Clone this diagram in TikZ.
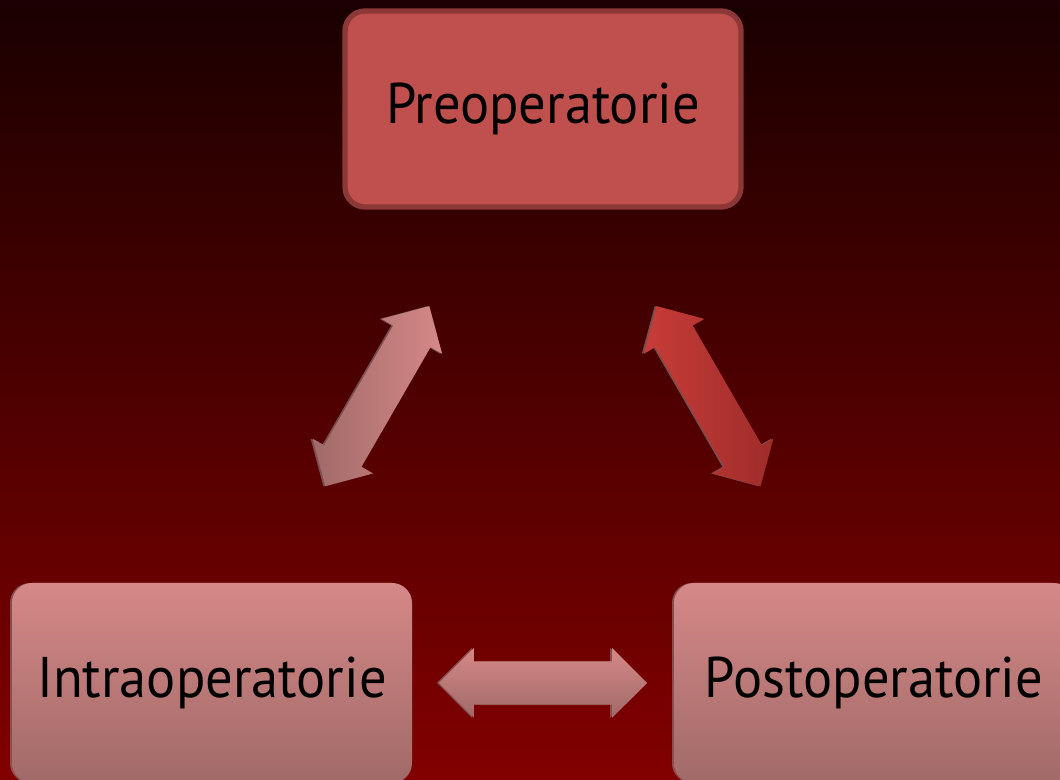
\documentclass[tikz,border=0pt]{standalone}
\usepackage{fontspec}
\setmainfont{PT Sans}[FakeStretch=0.95]
\usetikzlibrary{shapes.arrows,shadows,positioning}

\definecolor{bgtop}{RGB}{26,0,0}
\definecolor{bgbot}{RGB}{130,0,0}
\definecolor{prefill}{RGB}{192,80,77}
\definecolor{preline}{RGB}{140,56,54}
\definecolor{pinktop}{RGB}{213,136,135}
\definecolor{pinkbot}{RGB}{160,106,104}
\definecolor{redtop}{RGB}{200,60,56}
\definecolor{redbot}{RGB}{158,44,42}
\definecolor{glow}{RGB}{150,130,130}

\tikzset{
  phase/.style={shape = rectangle, rounded corners = 15pt, minimum width = 300pt, minimum height = 150pt, inner sep = 0pt, font = \fontsize{43}{50}\selectfont},
  darrow/.style={shape = double arrow, double arrow head extend = 10pt, minimum height = 156pt, minimum width = 52pt, inner xsep = 0pt, inner ysep = 16pt, sloped},
  soft/.style={general shadow = {fill = glow, opacity = 0.6, shadow xshift = -1.5pt, shadow yshift = 0pt}}
}

\begin{document}
\begin{tikzpicture}[x = 0.75pt, y = 0.75pt]
\useasboundingbox (0,0) rectangle (1060,780);
\clip (0,0) rectangle (1060,780);
\shade[top color = bgtop, bottom color = bgbot] (0,0) rectangle (1060,780);

\node[phase, fill = prefill, draw = preline, line width = 4pt, minimum width = 297pt, minimum height = 147pt] (pre) at (543,671) {Preoperatorie};
\node[phase, soft, top color = pinktop, bottom color = pinkbot] (intra) at (212,97) {Intraoperatorie};
\node[phase, soft, top color = pinktop, bottom color = pinkbot] (post) at (874,97) {Postoperatorie};

% double arrows between the phases
\path (intra) -- (pre) node[midway, darrow, soft, left color = pinkbot, right color = pinktop] (a1) {};
\path (pre) -- (post) node[midway, darrow, soft, left color = redtop, right color = redbot] (a2) {};
\path (intra) -- (post) node[midway, darrow, soft, top color = pinktop, bottom color = pinkbot] (a3) {};
\end{tikzpicture}
\end{document}
